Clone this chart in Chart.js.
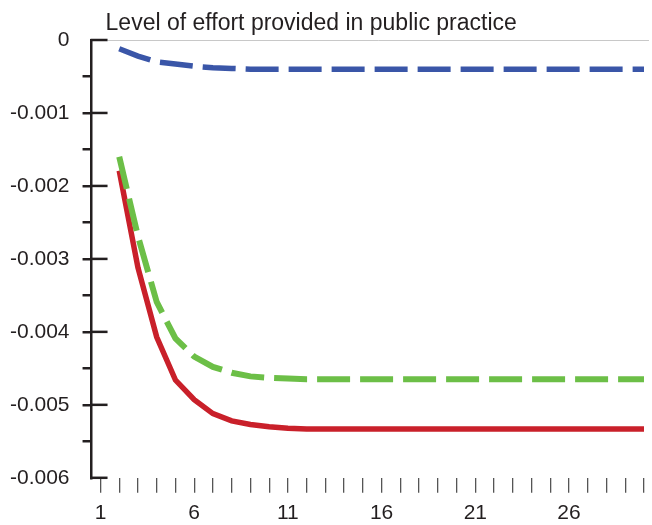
<!DOCTYPE html>
<html>
<head>
<meta charset="utf-8">
<script src="https://cdn.jsdelivr.net/npm/chart.js"></script>
<style>
  html, body { margin: 0; padding: 0; background: #fff; }
  #wrap { width: 652px; height: 525px; }
</style>
</head>
<body>
<div id="wrap"><canvas id="lineChart"></canvas></div>
<script>
// periods on the x axis, only every fifth one is labelled
const periods = [1, 2, 3, 4, 5, 6, 7, 8, 9, 10, 11, 12, 13, 14, 15,
                 16, 17, 18, 19, 20, 21, 22, 23, 24, 25, 26, 27, 28, 29, 30];
const xTickLabels = ['1', '', '', '', '', '6', '', '', '', '', '11', '', '', '', '',
                     '16', '', '', '', '', '21', '', '', '', '', '26', '', '', '', ''];

// y ticks: every 0.0005, labels only on the full 0.001 steps
const yTickValues = [0, -0.0005, -0.001, -0.0015, -0.002, -0.0025, -0.003,
                     -0.0035, -0.004, -0.0045, -0.005, -0.0055, -0.006];
const yTickLabels = ['0', '', '-0.001', '', '-0.002', '', '-0.003',
                     '', '-0.004', '', '-0.005', '', '-0.006'];
const yMajorValues = [0, -0.001, -0.002, -0.003, -0.004, -0.005, -0.006];

const titleText = 'Level of effort provided in public practice';

// series (period 1 has no value)
const blueDashed = [null, -0.00012, -0.00022, -0.00030, -0.00033, -0.00036, -0.00038,
  -0.00039, -0.00040, -0.00040, -0.00040, -0.00040, -0.00040, -0.00040, -0.00040,
  -0.00040, -0.00040, -0.00040, -0.00040, -0.00040, -0.00040, -0.00040, -0.00040,
  -0.00040, -0.00040, -0.00040, -0.00040, -0.00040, -0.00040, -0.00040];
const greenDashed = [null, -0.00160, -0.00269, -0.00359, -0.00409, -0.00434, -0.00448,
  -0.00456, -0.00461, -0.00463, -0.00464, -0.00465, -0.00465, -0.00465, -0.00465,
  -0.00465, -0.00465, -0.00465, -0.00465, -0.00465, -0.00465, -0.00465, -0.00465,
  -0.00465, -0.00465, -0.00465, -0.00465, -0.00465, -0.00465, -0.00465];
const redSolid = [null, -0.00179, -0.00312, -0.00407, -0.00466, -0.00493, -0.00512,
  -0.00522, -0.00527, -0.00530, -0.00532, -0.00533, -0.00533, -0.00533, -0.00533,
  -0.00533, -0.00533, -0.00533, -0.00533, -0.00533, -0.00533, -0.00533, -0.00533,
  -0.00533, -0.00533, -0.00533, -0.00533, -0.00533, -0.00533, -0.00533];

const FONT = '"Liberation Sans", Arial, sans-serif';
const INK = '#231f20';

function points(values) {
  return periods.map((p, i) => ({x: p, y: values[i]}));
}

// title, the light top rule and the right-hand half of the major y ticks
const axisExtras = {
  id: 'axisExtras',
  afterDraw(chart) {
    const {ctx, chartArea} = chart;
    const y = chart.scales.y;
    ctx.save();
    const top = Math.round(y.getPixelForValue(0)) + 0.5;
    ctx.strokeStyle = '#c8c8c8';
    ctx.lineWidth = 1;
    ctx.beginPath();
    ctx.moveTo(chartArea.left + 16, top);
    ctx.lineTo(chartArea.right, top);
    ctx.stroke();

    ctx.strokeStyle = INK;
    ctx.lineWidth = 2.5;
    yMajorValues.forEach(v => {
      const py = y.getPixelForValue(v);
      ctx.beginPath();
      ctx.moveTo(chartArea.left - 1, py);
      ctx.lineTo(chartArea.left + 16, py);
      ctx.stroke();
    });

    ctx.fillStyle = INK;
    ctx.font = '23px ' + FONT;
    ctx.textBaseline = 'alphabetic';
    ctx.fillText(titleText, chartArea.left + 14, 30);
    ctx.restore();
  }
};

const ctx = document.getElementById('lineChart').getContext('2d');
new Chart(ctx, {
  type: 'line',
  data: {
    datasets: [
      {
        data: points(greenDashed),
        borderColor: '#6cbf47',
        borderWidth: 6,
        borderDash: [33, 10]
      },
      {
        data: points(blueDashed),
        borderColor: '#3a56a8',
        borderWidth: 5.5,
        borderDash: [33, 10]
      },
      {
        data: points(redSolid),
        borderColor: '#c9202a',
        borderWidth: 5.5
      }
    ]
  },
  options: {
    responsive: true,
    maintainAspectRatio: false,
    animation: false,
    layout: { padding: { left: -3, right: 0, top: 40, bottom: -9 } },
    elements: {
      point: { radius: 0 },
      line: { tension: 0, fill: false }
    },
    plugins: {
      legend: { display: false },
      tooltip: { enabled: false }
    },
    scales: {
      x: {
        type: 'linear',
        min: 0.523,
        max: 30.265,
        afterBuildTicks: s => { s.ticks = periods.map(v => ({value: v})); },
        border: { display: false },
        grid: {
          drawOnChartArea: false,
          tickLength: 15,
          color: '#555',
          lineWidth: 1.3
        },
        ticks: {
          autoSkip: false,
          maxRotation: 0,
          padding: 8,
          color: INK,
          font: { family: FONT, size: 21 },
          callback: (v, i) => xTickLabels[i]
        }
      },
      y: {
        min: -0.006,
        max: 0,
        afterBuildTicks: s => { s.ticks = yTickValues.map(v => ({value: v})); },
        border: { display: true, color: INK, width: 2.5 },
        grid: {
          drawOnChartArea: false,
          tickLength: 9,
          lineWidth: 2.5,
          color: c => (c.index === 0 || c.index === yTickValues.length - 1) ? 'rgba(0,0,0,0)' : INK
        },
        ticks: {
          padding: 13,
          color: INK,
          font: { family: FONT, size: 21 },
          callback: (v, i) => yTickLabels[i]
        }
      }
    }
  },
  plugins: [axisExtras]
});
</script>
</body>
</html>
